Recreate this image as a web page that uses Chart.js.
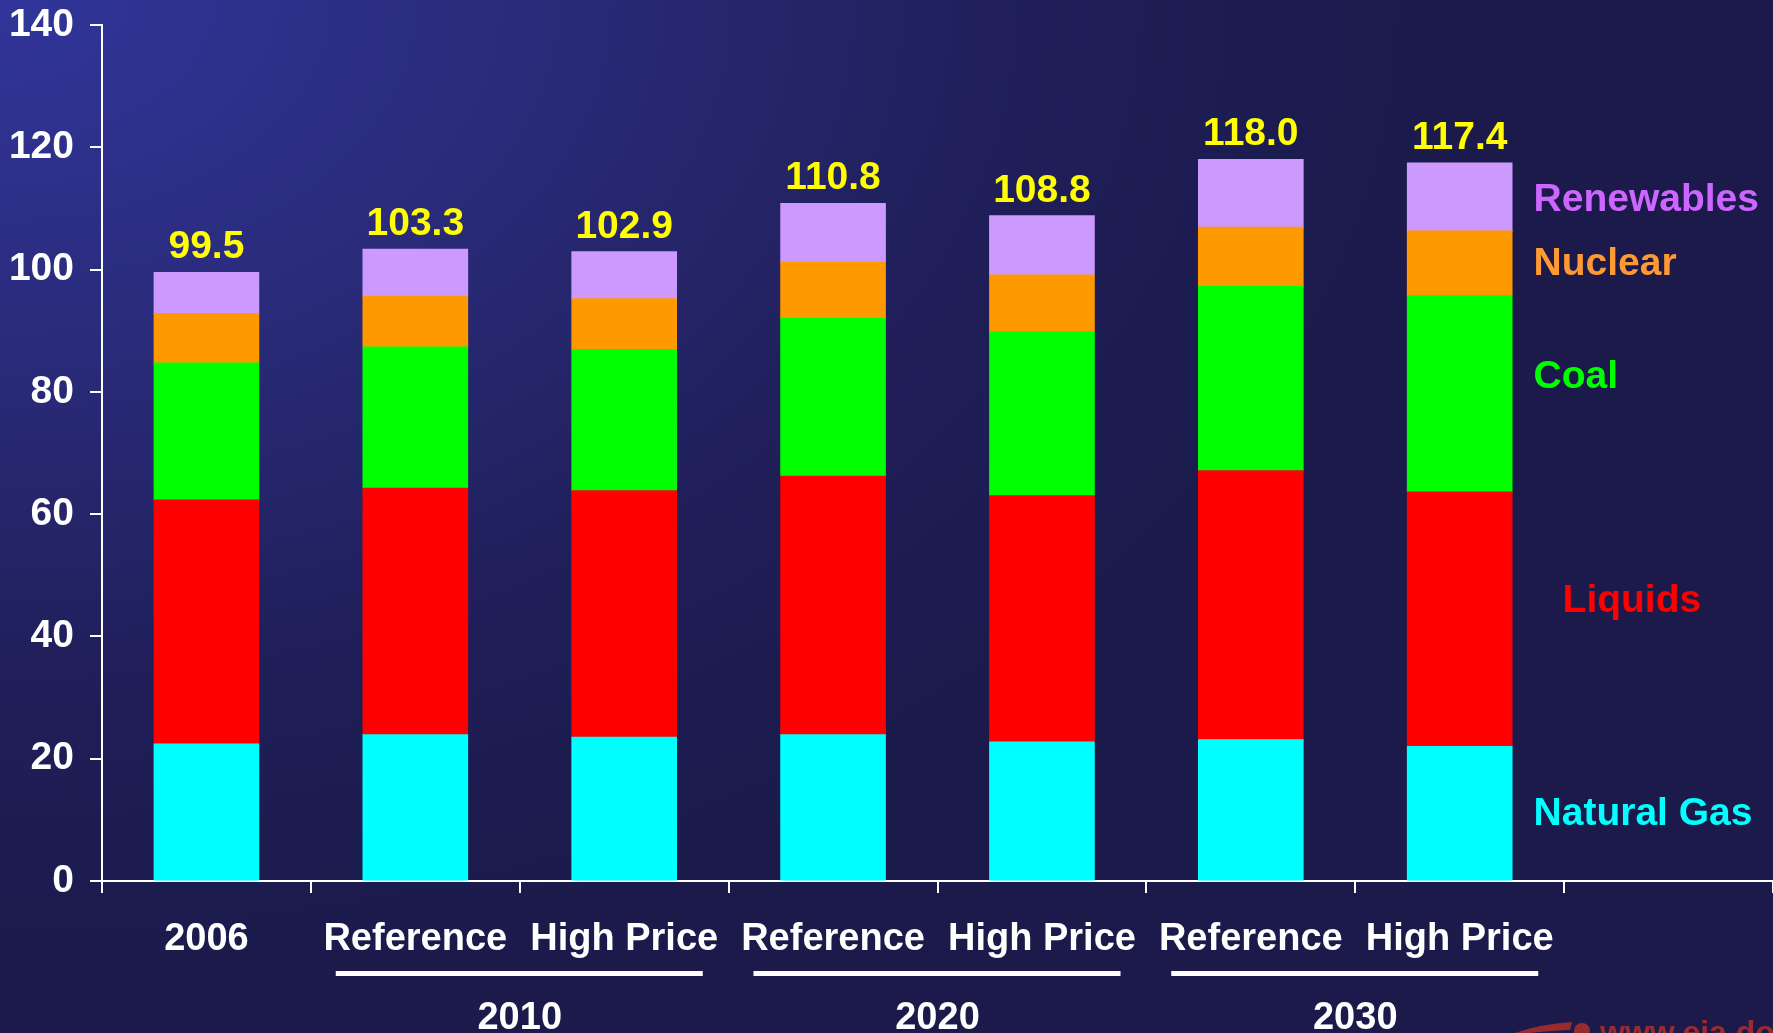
<!DOCTYPE html>
<html>
<head>
<meta charset="utf-8">
<script src="https://cdn.jsdelivr.net/npm/chart.js@4/dist/chart.umd.min.js"></script>
<style>
  html, body { margin: 0; padding: 0; }
  body {
    width: 1773px; height: 1033px; overflow: hidden;
    background: radial-gradient(ellipse 1500px 1000px at 0 0, #31359a 0%, #2a2b7a 35%, #1f1e58 70%, #1b1a4a 100%);
  }
  #chart { display: block; }
</style>
</head>
<body>
<canvas id="chart" width="1773" height="1033"></canvas>
<script>
'use strict';

const categories = ['2006', 'Reference', 'High Price', 'Reference', 'High Price', 'Reference', 'High Price'];
const groups     = ['2010', '2020', '2030'];
const totals     = [99.5, 103.3, 102.9, 110.8, 108.8, 118.0, 117.4];

const naturalGas = [22.4, 23.9, 23.5, 23.9, 22.7, 23.1, 22.0];
const liquids    = [39.9, 40.3, 40.3, 42.3, 40.3, 44.0, 41.6];
const coal       = [22.4, 23.1, 23.1, 25.8, 26.8, 30.1, 32.1];
const nuclear    = [8.1, 8.3, 8.3, 9.2, 9.3, 9.7, 10.6];
const renewables = [6.7, 7.7, 7.7, 9.6, 9.7, 11.1, 11.1];

const yMin = 0, yMax = 140, yStep = 20;

const FONT = "'Liberation Sans', Arial, sans-serif";

// side labels sit in an empty 8th slot of the x axis
const labels = categories.concat(['']);

const sideLabels = [
  { text: 'Renewables',  color: '#cc66ff', value: 112.0, dx: 0 },
  { text: 'Nuclear',     color: '#ff9933', value: 101.6, dx: 0 },
  { text: 'Coal',        color: '#00ff00', value: 83.0,  dx: 0 },
  { text: 'Liquids',     color: '#ff0000', value: 46.4,  dx: 29 },
  { text: 'Natural Gas', color: '#00ffff', value: 11.6,  dx: 0 }
];

const overlay = {
  id: 'overlay',
  afterDatasetsDraw(chart) {
    const { ctx, scales: { x, y } } = chart;
    ctx.save();
    ctx.textAlign = 'center';
    ctx.textBaseline = 'middle';

    // totals above bars
    ctx.fillStyle = '#ffff00';
    ctx.font = 'bold 39px ' + FONT;
    totals.forEach((t, i) => {
      ctx.fillText(t.toFixed(1), x.getPixelForValue(i), y.getPixelForValue(t) - 25);
    });

    // group underline + year
    ctx.fillStyle = '#ffffff';
    ctx.font = 'bold 38px ' + FONT;
    groups.forEach((g, k) => {
      const c = (x.getPixelForValue(2 * k + 1) + x.getPixelForValue(2 * k + 2)) / 2;
      ctx.fillRect(c - 184, 971, 367, 5);
      ctx.fillText(g, c, 1019);
    });

    // series names on the right
    ctx.textAlign = 'left';
    ctx.font = 'bold 39px ' + FONT;
    const lx = x.getPixelForValue(7) - 135;
    sideLabels.forEach(s => {
      ctx.fillStyle = s.color;
      ctx.fillText(s.text, lx + s.dx, y.getPixelForValue(s.value) + 4);
    });

    // watermark
    ctx.fillStyle = 'rgba(165,45,45,0.9)';
    ctx.beginPath();
    ctx.moveTo(1515, 1033);
    ctx.quadraticCurveTo(1540, 1024, 1572, 1022);
    ctx.lineTo(1570, 1030);
    ctx.quadraticCurveTo(1548, 1031, 1530, 1033);
    ctx.closePath();
    ctx.fill();
    ctx.beginPath();
    ctx.arc(1582, 1031, 8, 0, Math.PI * 2);
    ctx.fill();
    ctx.font = 'bold 32px ' + FONT;
    ctx.textBaseline = 'alphabetic';
    ctx.fillText('www.eia.doe.gov', 1600, 1043);
    ctx.restore();
  }
};

const ds = (label, data, color) => ({
  label, data, backgroundColor: color, borderWidth: 0, inflateAmount: 0.6,
  categoryPercentage: 1, barPercentage: 0.5
});

new Chart(document.getElementById('chart'), {
  type: 'bar',
  data: {
    labels,
    datasets: [
      ds('Natural Gas', naturalGas, '#00ffff'),
      ds('Liquids', liquids, '#ff0000'),
      ds('Coal', coal, '#00ff00'),
      ds('Nuclear', nuclear, '#ff9900'),
      ds('Renewables', renewables, '#cc99ff')
    ]
  },
  options: {
    responsive: false,
    animation: false,
    layout: { padding: { top: 25, right: 0, bottom: 0, left: 0 } },
    plugins: { legend: { display: false }, tooltip: { enabled: false } },
    scales: {
      x: {
        stacked: true,
        offset: true,
        afterFit: s => { s.height = 152; },
        grid: { drawOnChartArea: false, drawTicks: true, tickLength: 12, color: '#ffffff', lineWidth: 2, offset: true },
        border: { display: true, color: '#ffffff', width: 2 },
        ticks: { color: '#ffffff', padding: 24, maxRotation: 0, autoSkip: false, font: { family: FONT, size: 38, weight: 'bold' } }
      },
      y: {
        stacked: true,
        min: yMin, max: yMax,
        afterFit: s => { s.width = 102; s.paddingTop = 0; s.paddingBottom = 0; },
        grid: { drawOnChartArea: false, drawTicks: true, tickLength: 12, color: '#ffffff', lineWidth: 2 },
        border: { display: true, color: '#ffffff', width: 2 },
        ticks: { stepSize: yStep, color: '#ffffff', padding: 16, font: { family: FONT, size: 39, weight: 'bold' } }
      }
    }
  },
  plugins: [overlay]
});
</script>
</body>
</html>
